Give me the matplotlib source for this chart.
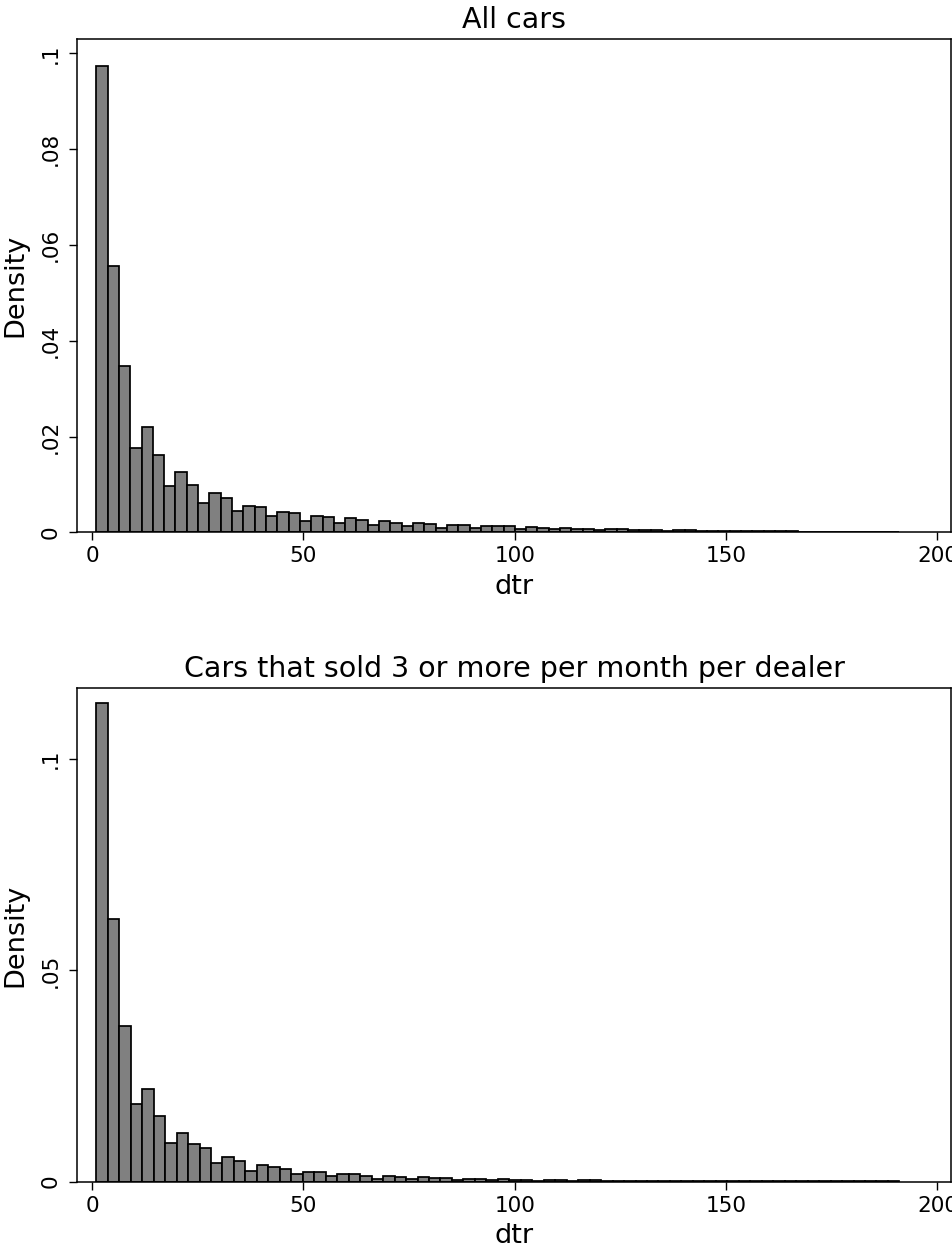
import matplotlib.pyplot as plt
import numpy as np

# Bar heights (density)
all_cars = [0.0973, 0.0555, 0.0347, 0.0177, 0.0219, 0.0162, 0.0096, 0.0126, 0.0099, 0.0061,
            0.0082, 0.0071, 0.0044, 0.0056, 0.0052, 0.0035, 0.0043, 0.0041, 0.0024, 0.0035,
            0.0033, 0.0019, 0.0029, 0.0026, 0.0016, 0.0023, 0.0020, 0.0013, 0.0020, 0.0017,
            0.0010, 0.0016, 0.0015, 0.0009, 0.0013, 0.0013, 0.00125, 0.0008, 0.0011, 0.0010,
            0.0006, 0.0010, 0.0008, 0.0007, 0.0005, 0.0006, 0.0006, 0.0004, 0.0005, 0.0005,
            0.0003, 0.0004, 0.0004, 0.0003, 0.0003, 0.0003, 0.0002, 0.0003, 0.0002, 0.0002,
            0.0002, 0.0002, 0.00015, 0.00015, 0.00015, 0.0001, 0.0001, 0.0001, 0.0001, 0.0001,
            0.0001]
fast_cars = [0.1132, 0.0622, 0.0368, 0.0183, 0.0220, 0.0155, 0.0091, 0.0115, 0.0088, 0.0080,
             0.0043, 0.0059, 0.0050, 0.0026, 0.0040, 0.0035, 0.0031, 0.0018, 0.0024, 0.0023,
             0.0013, 0.0019, 0.0017, 0.0014, 0.0006, 0.0013, 0.0011, 0.0006, 0.0010, 0.0009,
             0.0008, 0.0004, 0.0007, 0.0006, 0.0003, 0.0006, 0.0005, 0.0005, 0.0002, 0.0004,
             0.0004, 0.0002, 0.0003, 0.0003, 0.0002, 0.0002, 0.00025, 0.00015, 0.0002, 0.0002,
             0.0001, 0.00015, 0.00015, 0.0001, 0.0001, 0.0001, 0.0001, 0.0001, 0.00008, 0.00008,
             0.00008, 0.00006, 0.00006, 0.00006, 0.00005, 0.00005, 0.00005, 0.00004, 0.00004,
             0.00004]

dtr_min, dtr_max = 1, 191
x_ticks = [0, 50, 100, 150, 200]
top_yticks = [0, 0.02, 0.04, 0.06, 0.08, 0.1]
top_ylabels = ['0', '.02', '.04', '.06', '.08', '.1']
bot_yticks = [0, 0.05, 0.1]
bot_ylabels = ['0', '.05', '.1']

plt.rcParams['font.family'] = 'DejaVu Sans'
fig = plt.figure(figsize=(9.53, 12.47), dpi=100)
ax1 = fig.add_axes([0.0813, 0.5731, 0.9166, 0.3953])
ax2 = fig.add_axes([0.0813, 0.0524, 0.9166, 0.3957])


def draw_hist(ax, heights, title, yticks, ylabels, ymax):
    edges = np.linspace(dtr_min, dtr_max, len(heights) + 1)
    ax.bar(edges[:-1], heights, width=np.diff(edges), align='edge',
           color='#808080', edgecolor='black', linewidth=1.25)
    ax.set_xlim(-3.45, 203.2)
    ax.set_ylim(0, ymax)
    ax.set_xticks(x_ticks)
    ax.set_yticks(yticks)
    ax.set_yticklabels(ylabels, rotation=90, va='center')
    ax.tick_params(axis='both', labelsize=15.5, length=6, width=1.0, direction='out')
    ax.tick_params(axis='y', pad=6)
    ax.tick_params(axis='x', pad=4)
    for s in ax.spines.values():
        s.set_linewidth(1.1)
    ax.set_xlabel('dtr', fontsize=19.5)
    ax.set_ylabel('Density', fontsize=19.5)
    ax.yaxis.set_label_coords(-0.0561, 0.5)
    ax.xaxis.set_label_coords(0.5, -0.084)
    ax.set_title(title, fontsize=20.5, pad=8)


draw_hist(ax1, all_cars, 'All cars', top_yticks, top_ylabels, 0.1029)
draw_hist(ax2, fast_cars, 'Cars that sold 3 or more per month per dealer',
          bot_yticks, bot_ylabels, 0.1168)

plt.savefig('out.png', dpi=100)
